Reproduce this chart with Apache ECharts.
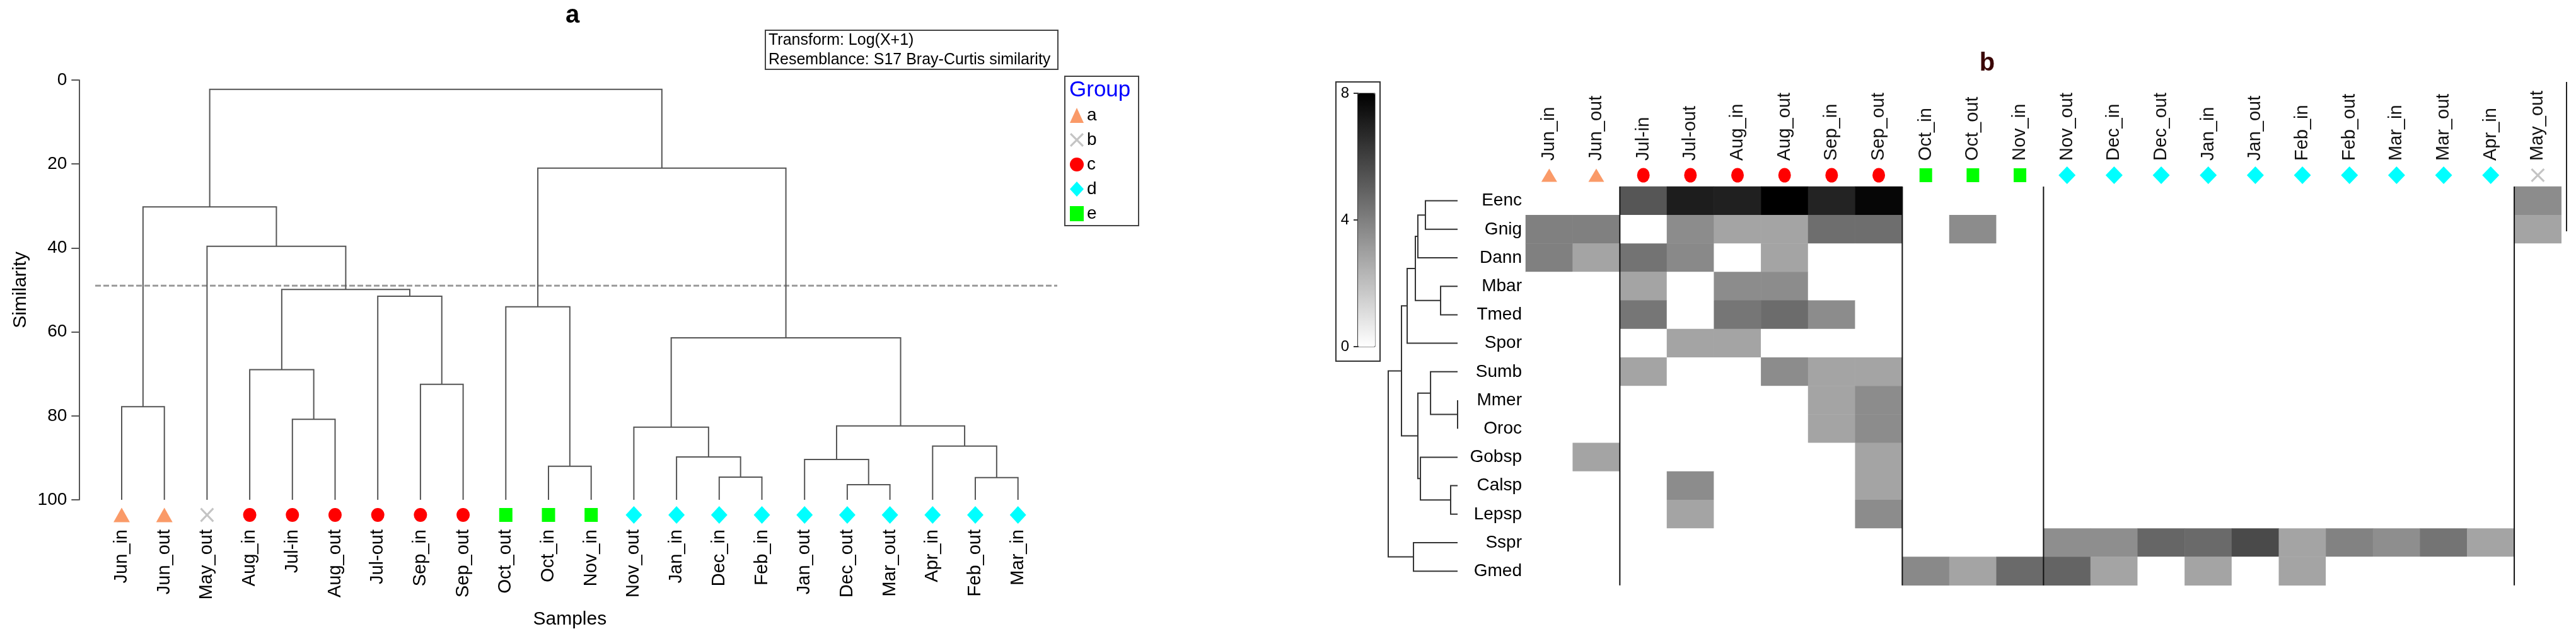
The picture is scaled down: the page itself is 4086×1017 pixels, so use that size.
<!DOCTYPE html>
<html><head><meta charset="utf-8">
<script src="https://cdn.jsdelivr.net/npm/echarts@6/dist/echarts.min.js"></script>
<style>html,body{margin:0;padding:0;background:#fff}#c{width:4086px;height:1017px}</style>
</head><body><div id="c"></div>
<script>
// ================= Panel a : sample dendrogram =================
const leafNames = ['Jun_in','Jun_out','May_out','Aug_in','Jul-in','Aug_out','Jul-out','Sep_in','Sep_out','Oct_out','Oct_in','Nov_in','Nov_out','Jan_in','Dec_in','Feb_in','Jan_out','Dec_out','Mar_out','Apr_in','Feb_out','Mar_in'];
const leafGroups = ['a','a','b','c','c','c','c','c','c','e','e','e','d','d','d','d','d','d','d','d','d','d'];
// merges: [child1, child2, similarity]; nodes 0..21 are leaves, 22+ are merges in order
const sampleMerges = [
  [0,1,77.8],[4,5,80.8],[3,23,69.0],[7,8,72.5],[6,25,51.5],[24,26,49.9],[2,27,39.6],[22,28,30.2],
  [10,11,92.0],[9,30,54.0],[14,15,94.6],[13,32,89.8],[12,33,82.7],[17,18,96.4],[16,35,90.4],
  [20,21,94.7],[19,37,87.2],[36,38,82.4],[34,39,61.4],[31,40,21.0],[29,41,2.2]
];
const cutLevel = 49;
const simTicks = [0,20,40,60,80,100];

// ================= Panel b : shade plot =================
const colNames = ['Jun_in','Jun_out','Jul-in','Jul-out','Aug_in','Aug_out','Sep_in','Sep_out','Oct_in','Oct_out','Nov_in','Nov_out','Dec_in','Dec_out','Jan_in','Jan_out','Feb_in','Feb_out','Mar_in','Mar_out','Apr_in','May_out'];
const colGroups = ['a','a','c','c','c','c','c','c','e','e','e','d','d','d','d','d','d','d','d','d','d','b'];
const speciesNames = ['Eenc','Gnig','Dann','Mbar','Tmed','Spor','Sumb','Mmer','Oroc','Gobsp','Calsp','Lepsp','Sspr','Gmed'];
const Eenc  = [0,0,5.3,7.1,7.0,8.0,6.9,7.8,0,0,0,0,0,0,0,0,0,0,0,0,0,3.6];
const Gnig  = [4.0,4.0,0,3.6,2.85,2.85,4.55,4.55,0,3.6,0,0,0,0,0,0,0,0,0,0,0,2.85];
const Dann  = [4.0,2.85,4.4,3.7,0,2.85,0,0,0,0,0,0,0,0,0,0,0,0,0,0,0,0];
const Mbar  = [0,0,2.85,0,3.6,3.6,0,0,0,0,0,0,0,0,0,0,0,0,0,0,0,0];
const Tmed  = [0,0,4.3,0,4.3,4.6,3.6,0,0,0,0,0,0,0,0,0,0,0,0,0,0,0];
const Spor  = [0,0,0,2.85,2.85,0,0,0,0,0,0,0,0,0,0,0,0,0,0,0,0,0];
const Sumb  = [0,0,2.85,0,0,3.6,2.85,2.85,0,0,0,0,0,0,0,0,0,0,0,0,0,0];
const Mmer  = [0,0,0,0,0,0,2.85,3.6,0,0,0,0,0,0,0,0,0,0,0,0,0,0];
const Oroc  = [0,0,0,0,0,0,2.85,3.6,0,0,0,0,0,0,0,0,0,0,0,0,0,0];
const Gobsp = [0,2.85,0,0,0,0,0,2.85,0,0,0,0,0,0,0,0,0,0,0,0,0,0];
const Calsp = [0,0,0,3.6,0,0,0,2.85,0,0,0,0,0,0,0,0,0,0,0,0,0,0];
const Lepsp = [0,0,0,2.85,0,0,0,3.6,0,0,0,0,0,0,0,0,0,0,0,0,0,0];
const Sspr  = [0,0,0,0,0,0,0,0,0,0,0,3.55,3.55,4.8,4.67,5.68,2.85,3.92,3.55,4.36,2.85,0];
const Gmed  = [0,0,0,0,0,0,0,0,3.7,2.85,4.67,4.86,2.85,0,2.85,0,2.85,0,0,0,0,0];
const abundance = [Eenc,Gnig,Dann,Mbar,Tmed,Spor,Sumb,Mmer,Oroc,Gobsp,Calsp,Lepsp,Sspr,Gmed];
// species dendrogram merges: [child1, child2, distance]; nodes 0..13 leaves, 14+ merges
const speciesMerges = [
  [0,1,4.64],[14,2,5.73],[3,4,2.45],[15,16,6.09],[17,5,7.27],[7,8,0.0],[6,19,3.9],
  [10,11,1.0],[9,21,5.36],[20,22,5.73],[18,23,8.09],[12,13,6.36],[24,25,10.0]
];
const scaleMin = 0, scaleMax = 8;
const scaleTicks = [0,4,8];

// ================= helpers =================
const F = "'Liberation Sans', Arial, sans-serif";
const XPATH = 'path://M1,0 L5,4 L9,0 L10,1 L6,5 L10,9 L9,10 L5,6 L1,10 L0,9 L4,5 L0,1 Z';
const groupStyle = {
  a:{symbol:'triangle', color:'#fa9a68', sizeA:[26,23], sizeB:[25,21]},
  b:{symbol:XPATH,      color:'#c4c4c4', sizeA:[22,23], sizeB:[22,22]},
  c:{symbol:'circle',   color:'#ff0000', sizeA:[21,22], sizeB:[20,23]},
  d:{symbol:'diamond',  color:'#00ffff', sizeA:[26,28], sizeB:[27,28]},
  e:{symbol:'rect',     color:'#00ff00', sizeA:[21,22], sizeB:[20,22]}
};
function treeSegments(nLeaves, merges, leafH){
  const pos = [], h = [];
  for (let i=0;i<nLeaves;i++){pos.push(i); h.push(leafH);}
  const out = [];
  merges.forEach(m=>{
    const [a,b,H] = m;
    out.push([pos[a], h[a], pos[b], h[b], H]);
    pos.push((pos[a]+pos[b])/2); h.push(H);
  });
  return out;
}
const segA = treeSegments(leafNames.length, sampleMerges, 100);
const segB = treeSegments(speciesNames.length, speciesMerges, 0);

const heatData = [];
abundance.forEach((row,r)=>row.forEach((v,c)=>heatData.push([c,r,v])));
const boundaries = [];
for (let i=1;i<colGroups.length;i++) if (colGroups[i]!==colGroups[i-1]) boundaries.push([i]);

// layout constants
const A_STEP = 67.7, A_LEFT = 193 - A_STEP, A_W = 23*A_STEP;
const B_COLW = 74.67, B_ROWH = 45.2, B_LEFT = 2420, B_TOP = 296;

const series = [];
// dendrogram a
series.push({type:'custom', xAxisIndex:0, yAxisIndex:0, data:segA, silent:true, z:3,
  renderItem:(p,api)=>{
    const p1=api.coord([api.value(0),api.value(1)]), p2=api.coord([api.value(0),api.value(4)]);
    const p3=api.coord([api.value(2),api.value(4)]), p4=api.coord([api.value(2),api.value(3)]);
    return {type:'polyline', shape:{points:[p1,p2,p3,p4]}, style:{stroke:'#555', lineWidth:2, fill:null}};
  }});
// cut line
series.push({type:'line', xAxisIndex:0, yAxisIndex:0, data:[[-0.62,cutLevel],[21.92,cutLevel]], symbol:'none', silent:true, z:2,
  lineStyle:{color:'#9a9a9a', width:3, type:[9,4]}});
// markers a
['a','b','c','d','e'].forEach(g=>{
  const gs = groupStyle[g];
  series.push({type:'scatter', name:g, xAxisIndex:1, yAxisIndex:1, symbol:gs.symbol, symbolSize:gs.sizeA,
    itemStyle:{color:gs.color, opacity:1}, silent:true,
    data: leafGroups.map((gg,i)=>gg===g?[i,0.5]:null).filter(d=>d)});
});
// heatmap
const heatIdx = series.length;
series.push({type:'heatmap', xAxisIndex:2, yAxisIndex:2, data:heatData, itemStyle:{borderWidth:0}, emphasis:{disabled:true}, silent:true, progressive:0});
// separators
series.push({type:'custom', xAxisIndex:3, yAxisIndex:3, data:boundaries, silent:true, z:10,
  renderItem:(p,api)=>{
    const a=api.coord([api.value(0),0]), b=api.coord([api.value(0),speciesNames.length]);
    return {type:'line', shape:{x1:a[0],y1:a[1],x2:b[0],y2:b[1]}, style:{stroke:'#111', lineWidth:2}};
  }});
// markers b
['a','b','c','d','e'].forEach(g=>{
  const gs = groupStyle[g];
  series.push({type:'scatter', name:g, xAxisIndex:4, yAxisIndex:4, symbol:gs.symbol, symbolSize:gs.sizeB,
    itemStyle:{color:gs.color, opacity:1}, silent:true,
    data: colGroups.map((gg,i)=>gg===g?[i,0.5]:null).filter(d=>d)});
});
// species dendrogram
series.push({type:'custom', xAxisIndex:5, yAxisIndex:5, data:segB, silent:true,
  renderItem:(p,api)=>{
    const p1=api.coord([api.value(1),api.value(0)]), p2=api.coord([api.value(4),api.value(0)]);
    const p3=api.coord([api.value(4),api.value(2)]), p4=api.coord([api.value(3),api.value(2)]);
    return {type:'polyline', shape:{points:[p1,p2,p3,p4]}, style:{stroke:'#333', lineWidth:2, fill:null}};
  }});

const noLine = {axisLine:{show:false}, axisTick:{show:false}, splitLine:{show:false}};

const option = {
  animation:false,
  backgroundColor:'#fff',
  textStyle:{fontFamily:F},
  grid:[
    {left:A_LEFT, top:127, width:A_W, height:666, outerBoundsMode:'none', containLabel:false},
    {left:A_LEFT, top:805, width:A_W, height:24, outerBoundsMode:'none', containLabel:false},
    {left:B_LEFT, top:B_TOP, width:22*B_COLW, height:14*B_ROWH, outerBoundsMode:'none', containLabel:false},
    {left:B_LEFT, top:266, width:22*B_COLW, height:24, outerBoundsMode:'none', containLabel:false},
    {left:2312-121, top:B_TOP, width:121, height:14*B_ROWH, outerBoundsMode:'none', containLabel:false},
    {left:2154, top:148, width:27, height:402, outerBoundsMode:'none', containLabel:false, show:true, borderColor:'#333', borderWidth:1, backgroundColor:'transparent'}
  ],
  xAxis:[
    Object.assign({gridIndex:0, type:'value', min:-1, max:22, interval:1, position:'bottom',
      axisLabel:{rotate:90, margin:47, fontSize:29, color:'#000', fontFamily:F,
        formatter:v=>{const i=Math.round(v); return (i>=0&&i<leafNames.length)?leafNames[i]:'';}},
      name:'Samples', nameLocation:'middle', nameGap:175, nameTextStyle:{fontSize:30, color:'#000', fontFamily:F}}, noLine),
    {gridIndex:1, type:'value', min:-1, max:22, show:false},
    Object.assign({gridIndex:2, type:'category', data:colNames, position:'top',
      axisLabel:{rotate:90, margin:41, interval:0, fontSize:29, color:'#111', fontFamily:F}}, noLine),
    {gridIndex:2, type:'value', min:0, max:colNames.length, show:false},
    {gridIndex:3, type:'category', data:colNames, show:false},
    {gridIndex:4, type:'value', min:0, max:11, inverse:true, show:false},
    {gridIndex:5, type:'value', min:0, max:1, show:false}
  ],
  yAxis:[
    {gridIndex:0, type:'value', inverse:true, min:simTicks[0], max:simTicks[simTicks.length-1], interval:20,
      axisLine:{show:true, onZero:false, lineStyle:{color:'#555', width:2}},
      axisTick:{show:true, length:12, lineStyle:{color:'#555', width:2}},
      axisLabel:{fontSize:28, color:'#000', margin:19, fontFamily:F},
      splitLine:{show:false},
      name:'Similarity', nameLocation:'middle', nameGap:78, nameTextStyle:{fontSize:30, color:'#000', fontFamily:F}},
    {gridIndex:1, type:'value', min:0, max:1, show:false},
    Object.assign({gridIndex:2, type:'category', data:speciesNames, inverse:true,
      axisLabel:{margin:6, interval:0, fontSize:28, color:'#000', fontFamily:F}}, noLine),
    {gridIndex:2, type:'value', min:0, max:speciesNames.length, inverse:true, show:false},
    {gridIndex:3, type:'value', min:0, max:1, show:false},
    {gridIndex:4, type:'value', min:-0.5, max:speciesNames.length-0.5, inverse:true, show:false},
    {gridIndex:5, type:'value', min:scaleMin, max:scaleMax, interval:4,
      axisLine:{show:true, onZero:false, lineStyle:{color:'#333', width:2}},
      axisTick:{show:true, length:7, lineStyle:{color:'#333', width:2}},
      axisLabel:{fontSize:24, color:'#000', margin:14, fontFamily:F},
      splitLine:{show:false}}
  ],
  visualMap:{type:'continuous', min:scaleMin, max:scaleMax, seriesIndex:heatIdx, dimension:2, orient:'vertical',
    left:2154, top:148, itemWidth:27, itemHeight:402, padding:0, calculable:false, hoverLink:false,
    inRange:{color:['#ffffff','#000000']}, textStyle:{color:'transparent'}},
  legend:{orient:'vertical', left:1697, top:169, itemWidth:22, itemHeight:24, itemGap:11, padding:0,
    selectedMode:false, textStyle:{fontSize:28, color:'#000', fontFamily:F},
    data:[{name:'a',icon:'triangle'},{name:'b',icon:XPATH},{name:'c',icon:'circle'},{name:'d',icon:'diamond'},{name:'e',icon:'rect'}]},
  graphic:[
    {type:'text', x:908, y:25, style:{text:'a', font:'bold 40px '+F, fill:'#000', textAlign:'center', textVerticalAlign:'middle'}},
    {type:'text', x:3152, y:101, style:{text:'b', font:'bold 40px '+F, fill:'#3a0505', textAlign:'center', textVerticalAlign:'middle'}},
    {type:'rect', shape:{x:1214, y:48, width:464, height:62}, style:{fill:'#fff', stroke:'#444', lineWidth:2}},
    {type:'text', x:1219, y:64, style:{text:'Transform: Log(X+1)', font:'25px '+F, fill:'#000', textAlign:'left', textVerticalAlign:'middle'}},
    {type:'text', x:1219, y:95, style:{text:'Resemblance: S17 Bray-Curtis similarity', font:'25px '+F, fill:'#000', textAlign:'left', textVerticalAlign:'middle'}},
    {type:'rect', shape:{x:1689, y:121, width:117, height:237}, style:{fill:'none', stroke:'#444', lineWidth:2}},
    {type:'text', x:1696, y:143, style:{text:'Group', font:'35px '+F, fill:'#0000ff', textAlign:'left', textVerticalAlign:'middle'}},
    {type:'rect', shape:{x:2119, y:130, width:70, height:443}, style:{fill:'none', stroke:'#333', lineWidth:2}},
    {type:'line', shape:{x1:4071, y1:130, x2:4071, y2:367}, style:{stroke:'#222', lineWidth:2}}
  ],
  series:series
};
const chart = echarts.init(document.getElementById('c'), null, {width:4086, height:1017});
chart.setOption(option);
</script></body></html>
